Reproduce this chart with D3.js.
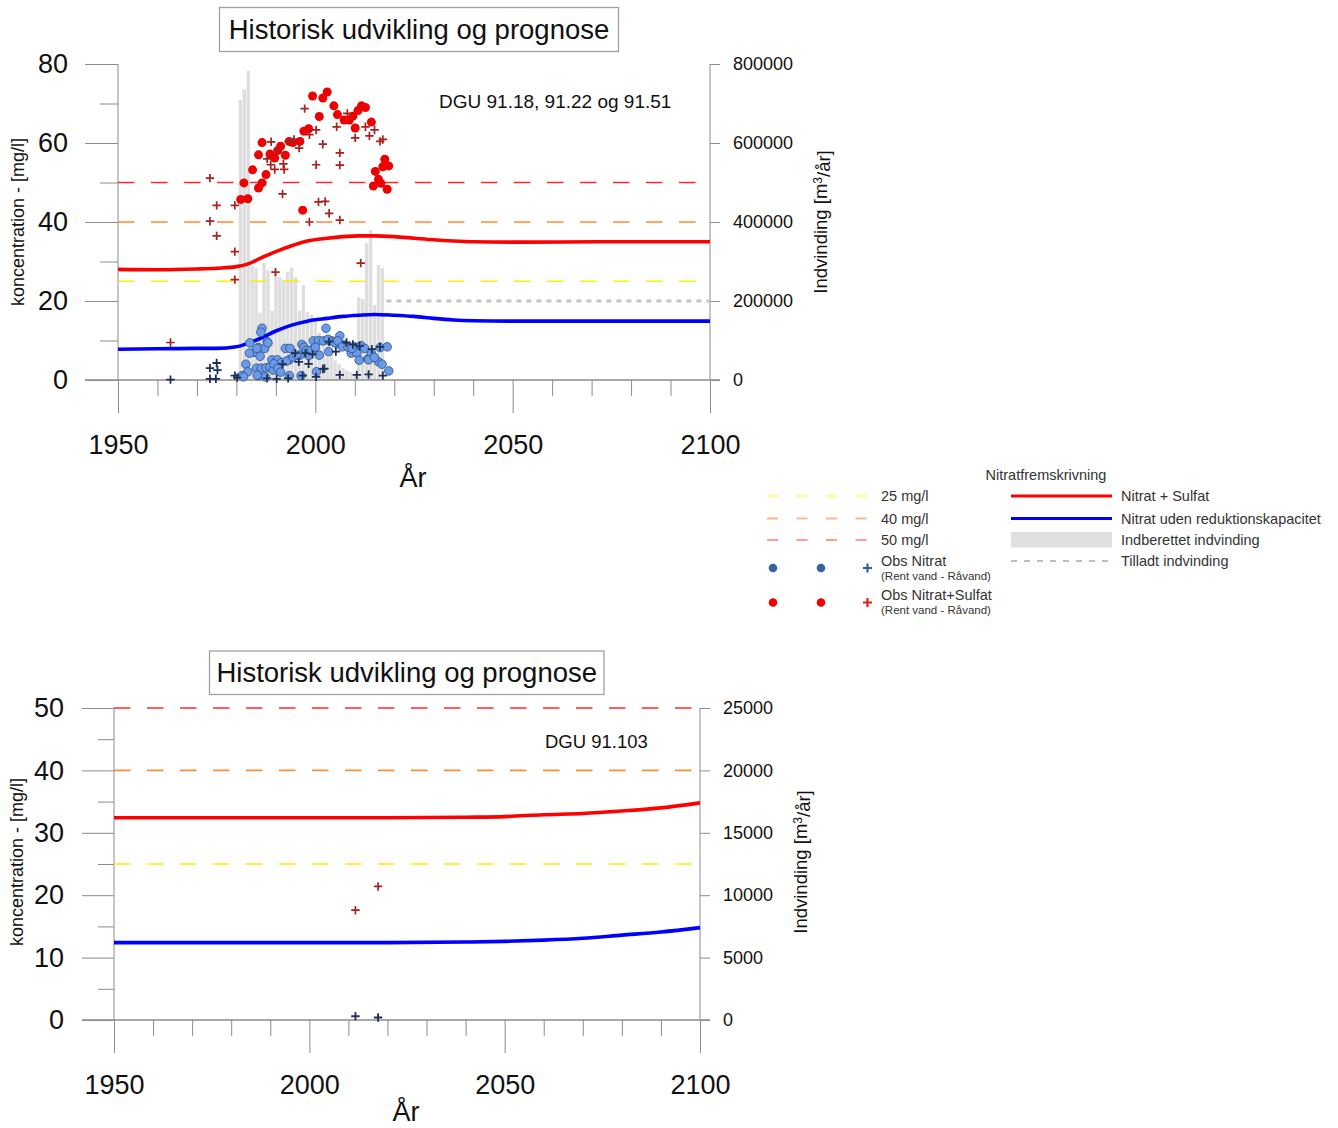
<!DOCTYPE html>
<html><head><meta charset="utf-8">
<script src="https://cdn.jsdelivr.net/npm/d3@7"></script>
<style>
body{margin:0;background:#fff}
svg{display:block}
text{font-family:"Liberation Sans",Arial,sans-serif}
</style>
</head><body>
<svg id="c" width="1338" height="1128"></svg>
<script>
// ---------------- DATA ----------------
const chartTitle = "Historisk udvikling og prognose";
const xTitle = "År";
const yTitleLeft = "koncentration - [mg/l]";
const yearMajor = [1950, 2000, 2050, 2100];
const yearMinor = [1960, 1970, 1980, 1990, 2010, 2020, 2030, 2040, 2060, 2070, 2080, 2090];
const limitValues = [25, 40, 50];
const limitLabels = ["25 mg/l", "40 mg/l", "50 mg/l"];

// chart 1
const c1Label = "DGU 91.18, 91.22 og 91.51";
const c1LeftMajor = [0, 20, 40, 60, 80];
const c1LeftMinor = [10, 30, 50, 70];
const c1RightTicks = [0, 200000, 400000, 600000, 800000];
const c1ModelYears = [1950, 1960, 1970, 1975, 1980, 1983, 1986, 1990, 1994, 1998, 2003, 2007, 2011, 2015, 2020, 2025, 2030, 2035, 2040, 2050, 2075, 2100];
const c1NitratSulfat = [28.0, 27.9, 28.1, 28.3, 28.7, 29.4, 30.8, 32.5, 34.0, 35.2, 35.9, 36.3, 36.5, 36.5, 36.3, 35.9, 35.5, 35.2, 35.0, 34.9, 35.0, 35.0];
const c1NitratUden = [7.8, 7.9, 8.0, 8.0, 8.4, 9.3, 10.5, 12.4, 13.9, 14.9, 15.6, 16.1, 16.4, 16.6, 16.4, 16.1, 15.6, 15.2, 15.0, 14.9, 14.9, 14.9];
const c1BarYears = [1981, 1982, 1983, 1984, 1985, 1986, 1987, 1988, 1989, 1990, 1991, 1992, 1993, 1994, 1995, 1996, 1997, 1998, 1999, 2000, 2001, 2002, 2003, 2004, 2005, 2006, 2007, 2008, 2009, 2010, 2011, 2012, 2013, 2014, 2015, 2016, 2017];
const c1BarValues = [710000, 736000, 782000, 289000, 283000, 170000, 296000, 278000, 175000, 274000, 261000, 253000, 274000, 285000, 260000, 175000, 240000, 172000, 165000, 150000, 120000, 95000, 90000, 75000, 50000, 40000, 30000, 25000, 20000, 15000, 210000, 205000, 347000, 380000, 190000, 291000, 283000];
const c1TilladtYears = [2018, 2100];
const c1TilladtValues = [200000, 200000];
const c1ObsNitratCircles = [
 [1986.5,13.1],[1986.2,12.1],[1983.4,9.4],[1987.8,9.7],[1985.6,8.2],[1984.5,7.0],[1987.2,8.0],[1986.0,6.0],
 [1982.4,4.0],[1982.9,2.1],[1981.4,1.1],[1985.1,3.0],[1986.3,3.0],[1987.5,3.1],[1988.5,3.3],[1985.5,1.1],
 [1989.3,2.5],[1989.0,5.1],[1990.4,5.1],[1991.4,4.4],[1992.4,8.0],[1993.6,8.0],[1993.4,5.1],[1992.7,4.8],
 [1996.6,9.0],[1997.1,8.3],[1997.8,7.5],[1996.1,6.3],[1999.5,9.9],[2000.8,10.0],[2002.7,13.1],[2002.0,9.9],
 [2003.5,10.0],[2004.2,9.9],[2006.2,11.2],[2006.1,9.2],[2007.3,8.9],[2008.8,8.0],[2010.0,8.4],[2011.6,8.7],
 [2012.5,8.0],[2016.4,8.2],[2018.2,8.4],[2009.1,6.8],[2010.5,6.8],[2011.1,5.0],[2013.3,5.3],[2014.7,5.8],
 [2016.0,4.6],[2016.9,4.0],[2018.6,2.3],[2003.4,7.2],[2000.3,2.1],[1996.4,1.1],[1993.4,1.1],[1999.8,8.0],
 [2001.0,6.3],[1998.3,6.2],[1994.4,5.8],[1995.3,6.3],[1989.5,4.1],[1987.3,0.8],[1983.3,6.8],[1985.2,8.0],
 [1988.0,9.4],[1981.8,0.8],[1985.3,1.2],[1999.0,7.6],[2000.0,8.3],[2003.2,10.3],[2004.9,9.4],[2005.7,9.9],
 [2006.8,8.4],[2008.3,8.3],[2009.3,8.0],[2014.2,6.7],[2013.5,5.1],[2015.0,5.7],[1990.5,3.0],[1991.2,2.0]
];
const c1ObsNitratCrosses = [
 [1963.3,0.1],[1973.3,3.0],[1975.0,4.3],[1975.2,2.5],[1973.3,0.3],[1974.8,0.3],[1979.6,1.1],[1980.2,0.6],
 [1987.8,0.4],[1990.2,0.3],[1993.1,0.4],[1995.8,4.6],[1998.3,4.1],[1996.8,1.1],[2000.2,0.8],[2001.9,2.8],
 [2006.2,1.3],[2010.5,1.3],[2013.5,1.4],[2017.1,1.1],[2003.5,9.7],[2005.2,7.2],[2007.9,9.5],[2014.3,7.8],
 [2016.4,8.4],[1997.5,6.8],[1994.9,6.8],[1991.7,4.0],[1999.3,6.5],[2009.5,9.0],[2011.2,8.6],[2002.3,2.9]
];
const c1ObsSulfatCircles = [
 [1981.9,49.9],[1981.1,45.7],[1982.9,45.9],[1984.1,53.2],[1985.6,48.6],[1986.5,49.9],[1985.6,57.0],[1986.5,60.1],
 [1987.5,52.0],[1988.5,57.2],[1989.7,56.2],[1990.5,58.1],[1991.2,59.2],[1992.4,56.9],[1993.4,60.4],[1994.3,60.1],
 [1996.1,60.4],[1997.1,63.0],[1998.3,63.6],[1996.8,43.0],[1999.3,71.9],[2001.0,66.7],[2001.9,71.4],[2003.0,72.9],
 [2004.7,69.4],[2005.6,67.2],[2007.3,65.8],[2008.6,65.8],[2009.5,66.8],[2010.8,68.2],[2011.7,69.4],[2012.7,69.0],
 [2010.1,63.8],[2014.2,65.3],[2017.6,55.9],[2015.2,52.8],[2017.1,54.0],[2018.6,54.2],[2016.0,50.8],[2016.6,49.8],
 [2014.7,49.1],[2018.2,48.3]
];
const c1ObsSulfatCrosses = [
 [1973.3,51.1],[1975.0,44.2],[1979.6,44.2],[1973.3,40.2],[1975.0,36.5],[1988.8,60.3],[1987.8,56.0],[1988.7,54.5],
 [1989.7,53.3],[1990.4,58.2],[1991.9,54.7],[1992.1,53.3],[1991.7,47.1],[1993.2,60.4],[1994.6,60.9],[1995.9,58.7],
 [1997.3,68.7],[1998.5,62.1],[2000.2,63.3],[2001.9,59.7],[2000.2,54.5],[1998.5,40.0],[2000.8,45.1],[2002.5,45.2],
 [2003.5,42.2],[2006.2,40.5],[2005.4,64.1],[2006.2,57.5],[2006.2,54.4],[2008.1,67.5],[2010.1,61.3],[2012.7,64.1],
 [2013.7,61.8],[2015.0,63.3],[2017.1,60.9],[2016.4,60.4],[1979.6,32.5],[1979.6,25.4],[1989.9,27.3],[2011.5,29.6],
 [1963.3,9.5]
];

// chart 2
const c2Label = "DGU 91.103";
const c2LeftMajor = [0, 10, 20, 30, 40, 50];
const c2LeftMinor = [5, 15, 25, 35, 45];
const c2RightTicks = [0, 5000, 10000, 15000, 20000, 25000];
const c2ModelYears = [1950, 2000, 2020, 2040, 2050, 2060, 2070, 2080, 2090, 2100];
const c2NitratSulfat = [32.4, 32.4, 32.4, 32.5, 32.6, 32.9, 33.1, 33.5, 34.0, 34.8];
const c2NitratUden = [12.4, 12.4, 12.4, 12.5, 12.6, 12.8, 13.1, 13.6, 14.1, 14.8];
const c2ObsNitratCrosses = [[2011.8,0.6],[2017.6,0.4]];
const c2ObsSulfatCrosses = [[2011.8,17.6],[2017.6,21.4]];

// legend
const legendTitle = "Nitratfremskrivning";
const legendRight = ["Nitrat + Sulfat", "Nitrat uden reduktionskapacitet", "Indberettet indvinding", "Tilladt indvinding"];
const legendObs = ["Obs Nitrat", "Obs Nitrat+Sulfat"];
const legendObsSub = "(Rent vand - Råvand)";

// ---------------- STYLE ----------------
const limitColors = ["#ffee00", "#ff8c33", "#ff2a2a"];
const legendLimitColors = ["#ffff70", "#ffb58a", "#ff9a9a"];
const RED = "#ff0000", BLUE = "#0000ff";
const AX = "#8c8c8c";

const svg = d3.select("#c");

function plus(sel, s) {
  return sel.attr("d", `M${-s},0H${s}M0,${-s}V${s}`);
}

function drawChart(o) {
  const g = svg.append("g");
  const x = d3.scaleLinear().domain([1950, 2100]).range([o.left, o.right]);
  const y = d3.scaleLinear().domain([0, o.yMax]).range([o.bottom, o.top]);
  const yR = d3.scaleLinear().domain([0, o.yRMax]).range([o.bottom, o.top]);

  // bars
  if (o.barYears) {
    const w = x(1951) - x(1950);
    g.append("g").selectAll("rect").data(o.barYears).join("rect")
      .attr("x", d => x(d) - w / 2 + 0.3).attr("width", w - 0.6)
      .attr("y", (d, i) => yR(o.barValues[i])).attr("height", (d, i) => yR(0) - yR(o.barValues[i]))
      .attr("fill", "#dedede");
  }

  // axes
  const styleAxis = (a, fs) => {
    a.select(".domain").remove();
    a.selectAll(".tick line").attr("stroke", AX).attr("stroke-width", 1);
    a.selectAll(".tick text").attr("fill", "#111").style("font-size", fs + "px")
      .style("font-family", '"Liberation Sans", Arial, sans-serif');
  };
  const lM = g.append("g").attr("transform", `translate(${x(1950)},0)`)
    .call(d3.axisLeft(y).tickValues(o.leftMajor).tickSize(o.majorTick).tickPadding(o.leftPad).tickFormat(d3.format("d")));
  styleAxis(lM, 27);
  const lm = g.append("g").attr("transform", `translate(${x(1950)},0)`)
    .call(d3.axisLeft(y).tickValues(o.leftMinor).tickSize(o.minorTick).tickFormat(""));
  styleAxis(lm, 10);
  const bM = g.append("g").attr("transform", `translate(0,${y(0)})`)
    .call(d3.axisBottom(x).tickValues(yearMajor).tickSize(33).tickPadding(21.5).tickFormat(d3.format("d")));
  styleAxis(bM, 27);
  const bm = g.append("g").attr("transform", `translate(0,${y(0)})`)
    .call(d3.axisBottom(x).tickValues(yearMinor).tickSize(16).tickFormat(""));
  styleAxis(bm, 10);
  const rA = g.append("g").attr("transform", `translate(${x(2100)},0)`)
    .call(d3.axisRight(yR).tickValues(o.rightTicks).tickSize(10).tickPadding(13).tickFormat(d3.format("d")));
  styleAxis(rA, 18);

  // frame lines
  g.append("line").attr("x1", x(1950)).attr("x2", x(1950)).attr("y1", y(o.yMax)).attr("y2", y(0))
    .attr("stroke", AX);
  g.append("line").attr("x1", x(2100)).attr("x2", x(2100)).attr("y1", y(o.yMax)).attr("y2", y(0))
    .attr("stroke", AX);
  g.append("line").attr("x1", x(1950) - o.majorTick).attr("x2", x(2100) + 10).attr("y1", y(0)).attr("y2", y(0))
    .attr("stroke", AX).attr("stroke-width", 1.5);

  // limit lines
  limitValues.forEach((v, i) => {
    g.append("line").attr("x1", x(1950)).attr("x2", x(2100)).attr("y1", y(v)).attr("y2", y(v))
      .attr("stroke", limitColors[i]).attr("stroke-width", 1.6).attr("stroke-dasharray", "16.5,16.5");
  });

  // tilladt
  if (o.tilladtYears) {
    g.append("line").attr("x1", x(o.tilladtYears[0])).attr("x2", x(o.tilladtYears[1]))
      .attr("y1", yR(o.tilladtValues[0])).attr("y2", yR(o.tilladtValues[1]))
      .attr("stroke", "#c4c4c4").attr("stroke-width", 3).attr("stroke-dasharray", "5,5");
  }

  // model lines
  const line = vals => d3.line().x((d, i) => x(o.modelYears[i])).y(d => y(d)).curve(d3.curveMonotoneX)(vals);
  g.append("path").attr("d", line(o.nitratSulfat)).attr("fill", "none").attr("stroke", RED).attr("stroke-width", 3.6);
  g.append("path").attr("d", line(o.nitratUden)).attr("fill", "none").attr("stroke", BLUE).attr("stroke-width", 3.6);

  // observations
  if (o.nCircles) {
    g.append("g").selectAll("circle").data(o.nCircles).join("circle")
      .attr("cx", d => x(d[0])).attr("cy", d => y(d[1])).attr("r", 4.3)
      .attr("fill", "#6a9ae8").attr("stroke", "#2a4f8a").attr("stroke-width", 0.8);
  }
  g.append("g").selectAll("path").data(o.nCrosses).join("path")
    .attr("transform", d => `translate(${x(d[0])},${y(d[1])})`)
    .call(plus, 4.2).attr("stroke", "#1d2f57").attr("stroke-width", 1.8).attr("fill", "none");
  if (o.sCircles) {
    g.append("g").selectAll("circle").data(o.sCircles).join("circle")
      .attr("cx", d => x(d[0])).attr("cy", d => y(d[1])).attr("r", 4.5)
      .attr("fill", "#ee0000");
  }
  g.append("g").selectAll("path").data(o.sCrosses).join("path")
    .attr("transform", d => `translate(${x(d[0])},${y(d[1])})`)
    .call(plus, 4.2).attr("stroke", "#a82020").attr("stroke-width", 1.7).attr("fill", "none");

  // title box
  g.append("rect").attr("x", o.titleBox[0]).attr("y", o.titleBox[1]).attr("width", o.titleBox[2]).attr("height", o.titleBox[3])
    .attr("fill", "#fff").attr("stroke", "#a0a0a0").attr("stroke-width", 1.3);
  g.append("text").attr("x", o.titleBox[0] + o.titleBox[2] / 2).attr("y", o.titleBaseline)
    .attr("text-anchor", "middle").style("font-size", "27.5px").attr("fill", "#111").text(chartTitle);

  // well label
  g.append("text").attr("x", o.labelPos[0]).attr("y", o.labelPos[1]).style("font-size", o.labelSize + "px").attr("fill", "#111").text(o.label);

  // axis titles
  g.append("text").attr("x", o.xTitlePos[0]).attr("y", o.xTitlePos[1]).attr("text-anchor", "middle")
    .style("font-size", "27px").attr("fill", "#111").text(xTitle);
  g.append("text").attr("transform", `translate(${o.yTitleL[0]},${o.yTitleL[1]}) rotate(-90)`)
    .attr("text-anchor", "middle").attr("dy", "0.35em").style("font-size", "18px").attr("fill", "#111").text(yTitleLeft);
  const rt = g.append("text").attr("transform", `translate(${o.yTitleR[0]},${o.yTitleR[1]}) rotate(-90)`)
    .attr("text-anchor", "middle").attr("dy", "0.35em").style("font-size", "18.5px").attr("fill", "#111");
  rt.append("tspan").text("Indvinding [m");
  rt.append("tspan").attr("dy", "-0.45em").style("font-size", "12px").text("3");
  rt.append("tspan").attr("dy", "0.45em").text("/år]");
}

drawChart({
  left: 118, right: 710, top: 64, bottom: 380, yMax: 80, yRMax: 800000,
  leftMajor: c1LeftMajor, leftMinor: c1LeftMinor, rightTicks: c1RightTicks,
  majorTick: 33, minorTick: 18, leftPad: 17,
  barYears: c1BarYears, barValues: c1BarValues,
  tilladtYears: c1TilladtYears, tilladtValues: c1TilladtValues,
  modelYears: c1ModelYears, nitratSulfat: c1NitratSulfat, nitratUden: c1NitratUden,
  nCircles: c1ObsNitratCircles, nCrosses: c1ObsNitratCrosses,
  sCircles: c1ObsSulfatCircles, sCrosses: c1ObsSulfatCrosses,
  titleBox: [219.5, 7.5, 399, 44], titleBaseline: 38.5,
  label: c1Label, labelPos: [439, 107.5], labelSize: 19,
  xTitlePos: [413, 487], yTitleL: [17.5, 222], yTitleR: [821, 222]
});

drawChart({
  left: 114, right: 700, top: 708, bottom: 1020, yMax: 50, yRMax: 25000,
  leftMajor: c2LeftMajor, leftMinor: c2LeftMinor, rightTicks: c2RightTicks,
  majorTick: 32, minorTick: 16, leftPad: 18,
  modelYears: c2ModelYears, nitratSulfat: c2NitratSulfat, nitratUden: c2NitratUden,
  nCrosses: c2ObsNitratCrosses, sCrosses: c2ObsSulfatCrosses,
  titleBox: [209.5, 651, 394.5, 43.5], titleBaseline: 681.5,
  label: c2Label, labelPos: [545, 748], labelSize: 18.5,
  xTitlePos: [406, 1121], yTitleL: [17, 862], yTitleR: [801, 862]
});

// ---------------- LEGEND ----------------
const lg = svg.append("g");
const ltxt = (x, y, s, fs) => lg.append("text").attr("x", x).attr("y", y).style("font-size", (fs || 14.5) + "px").attr("fill", "#333").text(s);
lg.append("text").attr("x", 1046).attr("y", 480).attr("text-anchor", "middle").style("font-size", "14.5px").attr("fill", "#333").text(legendTitle);
const rowY = [496, 518.5, 540];
limitLabels.forEach((s, i) => {
  lg.append("line").attr("x1", 767).attr("x2", 870).attr("y1", rowY[i]).attr("y2", rowY[i])
    .attr("stroke", legendLimitColors[i]).attr("stroke-width", 2).attr("stroke-dasharray", "11,18.5");
  ltxt(881, rowY[i] + 5.2, s);
});
// right column
lg.append("line").attr("x1", 1011).attr("x2", 1112).attr("y1", 496).attr("y2", 496).attr("stroke", RED).attr("stroke-width", 3);
lg.append("line").attr("x1", 1011).attr("x2", 1112).attr("y1", 518.5).attr("y2", 518.5).attr("stroke", BLUE).attr("stroke-width", 3);
lg.append("rect").attr("x", 1011).attr("y", 532).attr("width", 101).attr("height", 15.5).attr("fill", "#e0e0e0");
lg.append("line").attr("x1", 1011).attr("x2", 1108).attr("y1", 561).attr("y2", 561).attr("stroke", "#bdbdbd").attr("stroke-width", 2).attr("stroke-dasharray", "6,7");
[496, 518.5, 540, 561].forEach((yy, i) => ltxt(1121, yy + 5.2, legendRight[i]));
// obs rows
const obsY = [568, 602.5];
const obsCol = ["#2f67a6", "#ee0000"];
const obsCross = ["#2f5fa8", "#e02020"];
obsY.forEach((yy, i) => {
  [773, 821].forEach(cx => lg.append("circle").attr("cx", cx).attr("cy", yy).attr("r", 4.3).attr("fill", obsCol[i]));
  lg.append("path").attr("transform", `translate(867.5,${yy})`).call(plus, 4.5).attr("stroke", obsCross[i]).attr("stroke-width", 2.2);
  ltxt(881, yy - 2.5, legendObs[i]);
  ltxt(881, yy + 11.5, legendObsSub, 11.5);
});
</script>
</body></html>
